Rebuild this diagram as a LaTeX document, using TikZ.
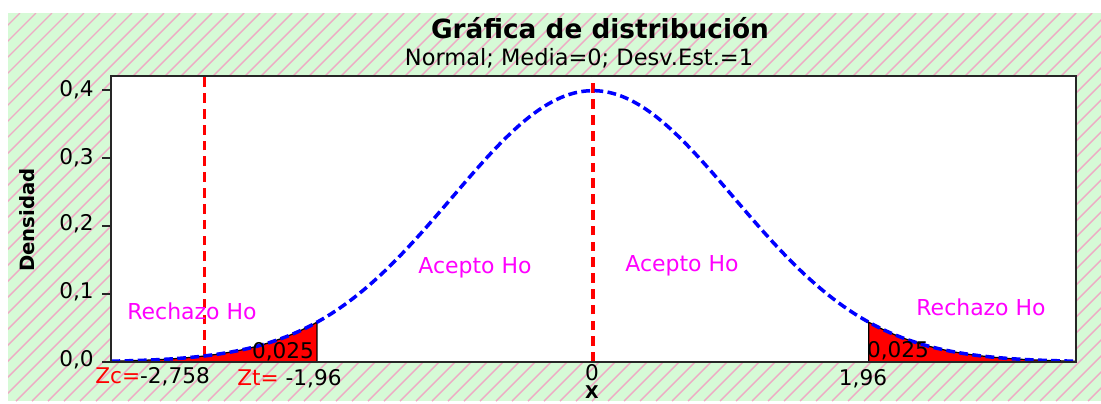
\documentclass[tikz,border=0pt]{standalone}
\usepackage{fontspec}
\setmainfont{DejaVu Sans}
\usepackage{tikz}
\usetikzlibrary{positioning}
\usetikzlibrary{calc}
\definecolor{fondo}{RGB}{214,250,214}
\definecolor{rayas}{RGB}{238,170,196}
\definecolor{rosa}{RGB}{255,0,255}
\tikzstyle{rayado} = [rayas, line width=0.8pt]
\tikzstyle{curva} = [blue, line width=2pt, dash pattern=on 5pt off 2.5pt]
\tikzstyle{corte} = [red, line width=2pt, dash pattern=on 5.5pt off 3.5pt]
\tikzstyle{cola} = [fill=red, draw=black, line width=0.7pt]
\tikzstyle{marco} = [draw=black!85, line width=1.3pt]
\tikzstyle{zona} = [text=rosa, font=\fontsize{12.5}{15}\selectfont]
\tikzstyle{eje} = [font=\fontsize{12.3}{15}\selectfont]
\tikzstyle{every node}=[inner sep=0pt]

\begin{document}
\begin{tikzpicture}[x=0.02cm,y=-0.02cm]
		\useasboundingbox (0,0) rectangle (1101,403);
		% fondo rayado
		\fill[fondo] (8,13) rectangle (1101,401);
		\begin{scope}
			\clip (8,13) rectangle (1101,401);
			\foreach \i in {-400,-384,...,1110}
				\draw[rayado] (\i,401) -- ($(\i,401)+(388,-388)$);
		\end{scope}
		\fill[white] (111,76) rectangle (1076,362);
		% curva normal
		\begin{scope}[shift={(11.86cm,-7.24cm)}, x=2.816cm, y=13.6cm]
			\filldraw[cola] (-3.42,0) -- plot[domain=-3.42:-1.96, samples=40, smooth] (\x,{0.398942*exp(-0.5*\x*\x)}) -- (-1.96,0) -- cycle;
			\filldraw[cola] (1.96,0) -- plot[domain=1.96:3.43, samples=40, smooth] (\x,{0.398942*exp(-0.5*\x*\x)}) -- (3.43,0) -- cycle;
			\draw[corte] (0,0) -- (0,0.42);
			\draw[corte] (-2.758,0.0089) -- (-2.758,0.42);
			\draw[curva] plot[domain=-3.42:3.43, samples=160, smooth] (\x,{0.398942*exp(-0.5*\x*\x)});
		\end{scope}
		\draw[marco] (111,76) rectangle (1076,362);
		\foreach \v in {0,...,4}
			\draw[marco] (102,362-68*\v) -- (111,362-68*\v);
		% textos
		\node (titulo) at (600,28) {\fontsize{15}{18}\selectfont\bfseries Gráfica de distribución};
		\node (subtitulo) at (579,58) {\fontsize{12.8}{15}\selectfont Normal; Media=0; Desv.Est.=1};
		\node (densidad) [rotate=90, font=\fontsize{11.2}{14}\selectfont\bfseries] at (27,220) {Densidad};
		\node (y0) [eje, anchor=east] at (94,360) {0,0};
		\node (y1) [eje, anchor=east] at (94,292) {0,1};
		\node (y2) [eje, anchor=east] at (94,224) {0,2};
		\node (y3) [eje, anchor=east] at (94,158) {0,3};
		\node (y4) [eje, anchor=east] at (94,90) {0,4};
		\node (zc) [eje, anchor=west] at (95,377) {\textcolor{red}{Zc=}-2,758};
		\node (zt) [eje, anchor=west] at (237,379) {\textcolor{red}{Zt=} -1,96};
		\node (t0) [eje] at (592,373) {0};
		\node (t196) [eje] at (863,379) {1,96};
		\node (ejex) [font=\fontsize{10}{12}\selectfont\bfseries] at (592,392) {X};
		\node (p1) [eje] at (283,352) {0,025};
		\node (p2) [eje] at (898,351) {0,025};
		\node (acepto1) [zona] at (475,268) {Acepto Ho};
		\node (acepto2) [zona] at (682,266) {Acepto Ho};
		\node (rechazo1) [zona] at (192,311) {Rechazo Ho};
		\node (rechazo2) [zona] at (981,307) {Rechazo Ho};
	\end{tikzpicture}
\end{document}
